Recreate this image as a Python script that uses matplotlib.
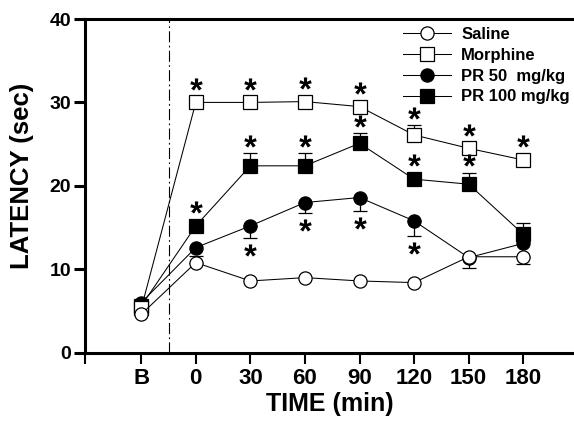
import matplotlib
matplotlib.use('Agg')
import matplotlib.pyplot as plt
import numpy as np
from matplotlib.textpath import TextPath
from matplotlib.font_manager import FontProperties
from matplotlib.path import Path

plt.rcParams['font.family'] = ['Liberation Sans', 'DejaVu Sans']
plt.rcParams['font.weight'] = 'bold'

tick_labels = ['B', '0', '30', '60', '90', '120', '150', '180']
saline = [4.6, 10.8, 8.6, 9.0, 8.6, 8.4, 11.5, 11.5]
saline_err_lo = [0, 0, 0, 0, 0, 0, 1.3, 0.9]
saline_err_hi = [0, 0.8, 0, 0, 0, 0, 0, 0]
morphine = [5.3, 30.0, 30.0, 30.1, 29.5, 26.1, 24.5, 23.1]
morphine_err_lo = [0, 0, 0, 0, 0, 0, 0, 0]
morphine_err_hi = [0, 0, 0, 0, 0.6, 1.2, 0, 0]
pr50 = [6.0, 12.6, 15.2, 18.0, 18.6, 15.8, 11.4, 13.1]
pr50_err_lo = [0, 0, 1.4, 1.3, 1.6, 1.8, 0, 0]
pr50_err_hi = [0, 0, 0, 0, 0, 0, 0, 0]
pr100 = [5.6, 15.2, 22.4, 22.4, 25.1, 20.8, 20.2, 14.2]
pr100_err_lo = [0, 0, 0, 0, 0, 0, 0, 0]
pr100_err_hi = [0, 0, 1.5, 1.5, 1.2, 0, 1.4, 1.4]
morphine_sig = [0, 1, 1, 1, 1, 1, 1, 1]
pr100_sig = [0, 1, 1, 1, 1, 1, 1, 0]
pr50_sig = [0, 0, 1, 1, 1, 1, 0, 0]

W, H = 574, 424
fig = plt.figure(figsize=(W / 100, H / 100), dpi=100)
ax_l, ax_r, ax_b, ax_t = 85, 574, 352.7, 19
ax = fig.add_axes([ax_l / W, 1 - ax_b / H, (ax_r - ax_l) / W, (ax_b - ax_t) / H])

x = np.arange(len(tick_labels))
ax.set_xlim(-1.03, 7.93)
ax.set_ylim(0, 40)

# star marker built from the asterisk glyph, centred
tp = TextPath((0, 0), '*', size=10, prop=FontProperties(family='Liberation Sans', weight='bold'))
v = tp.vertices.copy()
codes = tp.codes.copy()
start = 0
for i, c in enumerate(codes):
    if c == Path.MOVETO:
        start = i
    elif c == Path.CLOSEPOLY:
        v[i] = v[start]
x0, x1 = v[:, 0].min(), v[:, 0].max()
y0, y1 = v[:, 1].min(), v[:, 1].max()
v[:, 0] -= (x0 + x1) / 2
v[:, 1] -= (y0 + y1) / 2
star = Path(v, codes)

ax.axvline(0.5, color='k', lw=0.8, ls=(0, (10, 3, 1.5, 3)), zorder=1)

def series(vals, lo, hi, marker, face, ms, label, z):
    vals = np.asarray(vals, float)
    lo = np.asarray(lo, float)
    hi = np.asarray(hi, float)
    m = (lo > 0) | (hi > 0)
    if m.any():
        ax.errorbar(x[m], vals[m], yerr=[lo[m], hi[m]], fmt='none', ecolor='k',
                    elinewidth=0.9, capsize=5, capthick=0.9, zorder=z)
    ln, = ax.plot(x, vals, color='k', lw=0.75, marker=marker, ms=ms,
                  mfc=face, mec='k', mew=0.9, label=label, zorder=z + 0.5)
    return ln

h50 = series(pr50, pr50_err_lo, pr50_err_hi, 'o', 'k', 9.5, 'PR 50  mg/kg', 3)
h100 = series(pr100, pr100_err_lo, pr100_err_hi, 's', 'k', 10, 'PR 100 mg/kg', 4)
hmor = series(morphine, morphine_err_lo, morphine_err_hi, 's', 'w', 10, 'Morphine', 5)
hsal = series(saline, saline_err_lo, saline_err_hi, 'o', 'w', 9.5, 'Saline', 6)

def stars(vals, hi, lo, sig, above):
    vals = np.asarray(vals, float)
    for i, s in enumerate(sig):
        if not s:
            continue
        if above:
            y = vals[i] + max(hi[i], 0.8) + 1.45
        else:
            y = vals[i] - max(lo[i], 0.8) - 1.45
        ax.plot([x[i]], [y], marker=star, ms=9, color='k', mew=0, ls='none', zorder=8)

stars(morphine, morphine_err_hi, morphine_err_lo, morphine_sig, True)
stars(pr100, pr100_err_hi, pr100_err_lo, pr100_sig, True)
stars(pr50, pr50_err_hi, pr50_err_lo, pr50_sig, False)

ax.set_xticks(x)
ax.set_xticklabels(tick_labels, fontsize=16, fontweight='bold')
ax.set_xticks([-1.03], minor=True)
ax.set_yticks([0, 10, 20, 30, 40])
ax.set_yticklabels(['0', '10', '20', '30', '40'], fontsize=14, fontweight='bold')
ax.tick_params(axis='x', which='both', direction='out', length=8, width=1.5, pad=3)
ax.tick_params(axis='y', direction='out', length=8, width=2.2, pad=2)

for s in ['left', 'top', 'bottom']:
    ax.spines[s].set_linewidth(2.2)
ax.spines['right'].set_visible(False)

ax.set_xlabel('TIME (min)', fontsize=18, fontweight='bold', labelpad=2)
ax.set_ylabel('LATENCY (sec)', fontsize=18.5, fontweight='bold')
ax.yaxis.set_label_coords(-0.104, 0.53)

ax.legend(handles=[hsal, hmor, h50, h100], loc='upper left',
          bbox_to_anchor=(403 / W, 1 - 27 / H), bbox_transform=fig.transFigure,
          frameon=False, handlelength=2.9, handletextpad=0.6, labelspacing=0.35,
          borderpad=0, borderaxespad=0, numpoints=1,
          prop=FontProperties(family='Liberation Sans', weight='bold', size=12))

fig.savefig('out.png', dpi=100)
